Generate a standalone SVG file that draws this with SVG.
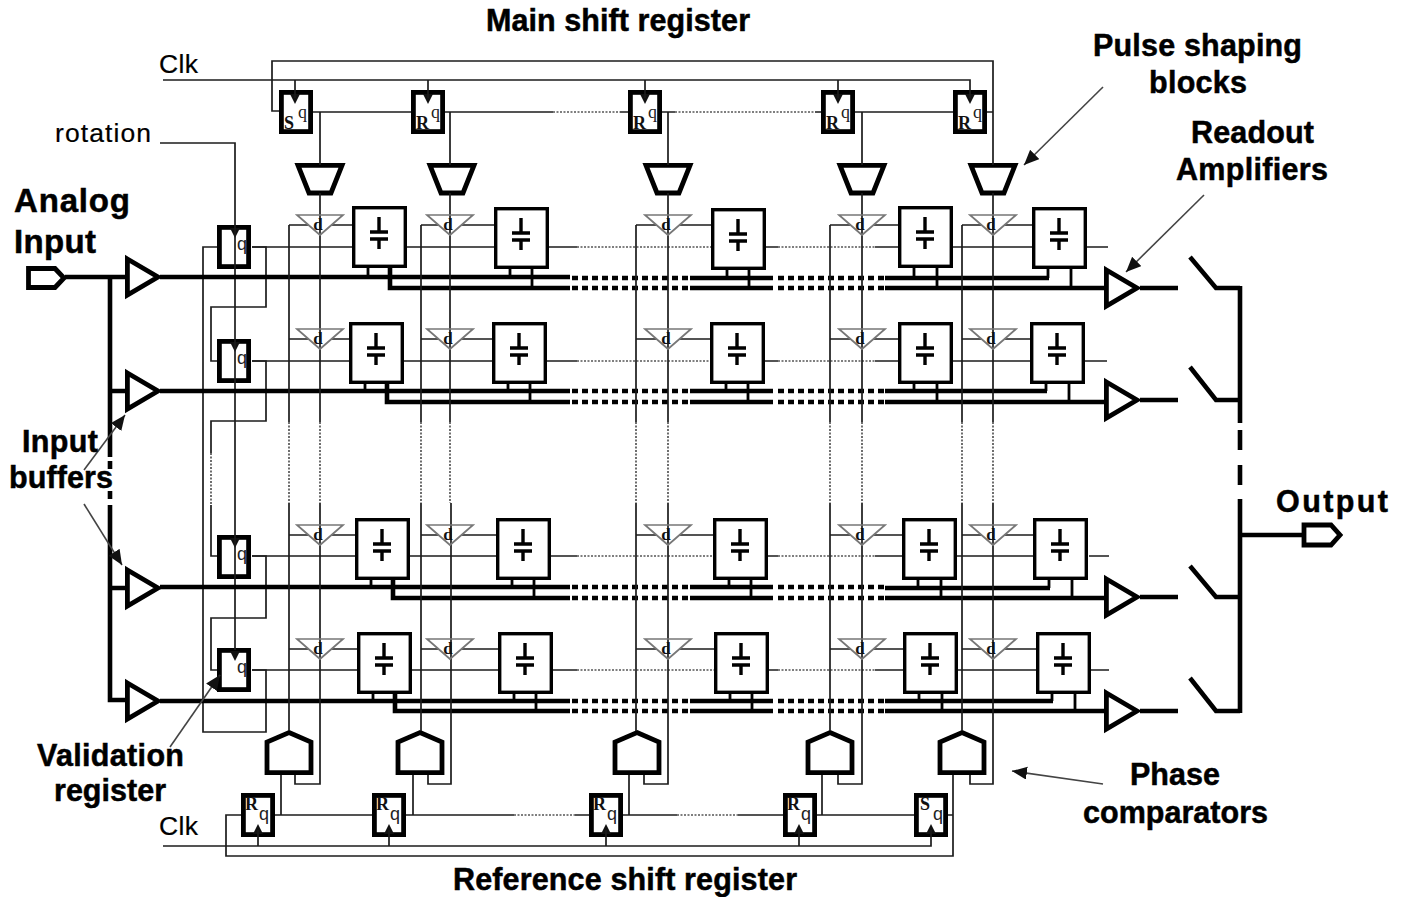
<svg xmlns="http://www.w3.org/2000/svg" xmlns:xlink="http://www.w3.org/1999/xlink" width="1406" height="897" viewBox="0 0 1406 897">
<style>
.t{fill:none;stroke:#1c1c1c;stroke-width:1.7}
.d{fill:none;stroke:#555;stroke-width:1.7;stroke-dasharray:2 1.5}
.b{fill:none;stroke:#000;stroke-width:4.6}
.bd{fill:none;stroke:#000;stroke-width:4.6;stroke-dasharray:6 4}
.s{fill:none;stroke:#000;stroke-width:2.8}
.vd{fill:none;stroke:#000;stroke-width:4.6}
.n{fill:none;stroke:#000;stroke-width:4.8;stroke-linejoin:miter}
.nb{fill:none;stroke:#000;stroke-width:3.4}
.tri{fill:none;stroke:#777;stroke-width:1.7}
.h{fill:#111}
.a{fill:none;stroke:#444;stroke-width:1.6;marker-end:url(#head)}
.l{font:bold 30.5px "Liberation Sans",Arial,sans-serif;fill:#000;stroke:#000;stroke-width:.5}
.r{font:26.5px "Liberation Sans",Arial,sans-serif;fill:#000;stroke:#000;stroke-width:.2}
.dl{font:bold 17px "Liberation Serif",serif;fill:#111;text-anchor:middle}
.fb{font:bold 18px "Liberation Serif",serif;fill:#111}
.fq{font:18px "Liberation Serif",serif;fill:#222}
.vq{font:18px "Liberation Sans",sans-serif;fill:#222}
</style>
<defs>
<marker id="head" markerUnits="userSpaceOnUse" markerWidth="18" markerHeight="14" refX="15" refY="6.5" orient="auto"><path d="M0 0L15 6.500L0 13Z" fill="#111"/></marker>
<g id="capbox"><rect class="nb" x="1.700" y="1.700" width="51.600" height="58.600" fill="#fff"/><path class="nb" d="M27 11V26M18 26H36M18 33H36M27 33V43"/></g>
<rect id="ff" class="n" x="2.400" y="2.400" width="29.200" height="39.200"/>
<path id="dtri" class="tri" d="M-23 0H23L0 20Z"/>
<path id="amp" class="n" d="M2.400-18L33 0L2.400 18Z"/>
<path id="pulse" class="n" d="M-22 2.400H22L11 30H-11Z"/>
<path id="comp" class="n" d="M0 1.500L22 11V41.600H-22V11Z"/>
<path id="clkdown" class="h" d="M-5 0H5L0 10Z"/>
<path id="clkup" class="h" d="M-5 0H5L0-10Z"/>
</defs>

<g id="input-port"><path class="n" d="M28.500 268.500H55L64 278L55 287.500H28.500Z"/></g>
<g id="output-port"><path class="n" d="M1304 525H1331L1340 535L1331 545H1304Z"/></g>

<g id="input-buffer-1" transform="translate(125,277)"><use href="#amp"/></g>
<g id="input-buffer-2" transform="translate(125,391)"><use href="#amp"/></g>
<g id="input-buffer-3" transform="translate(125,588)"><use href="#amp"/></g>
<g id="input-buffer-4" transform="translate(125,701)"><use href="#amp"/></g>
<g id="readout-amp-1" transform="translate(1104,288)"><use href="#amp"/></g>
<g id="readout-amp-2" transform="translate(1104,400)"><use href="#amp"/></g>
<g id="readout-amp-3" transform="translate(1104,597)"><use href="#amp"/></g>
<g id="readout-amp-4" transform="translate(1104,711)"><use href="#amp"/></g>

<g id="main-ff-1" transform="translate(279,90)"><use href="#ff"/><use href="#clkdown" x="16" y="4"/><text class="fb" x="5" y="39">S</text><text class="fq" x="19" y="28">q</text></g>
<g id="main-ff-2" transform="translate(411,90)"><use href="#ff"/><use href="#clkdown" x="17" y="4"/><text class="fb" x="5" y="39">R</text><text class="fq" x="20" y="28">q</text></g>
<g id="main-ff-3" transform="translate(628,90)"><use href="#ff"/><use href="#clkdown" x="17" y="4"/><text class="fb" x="5" y="39">R</text><text class="fq" x="20" y="28">q</text></g>
<g id="main-ff-4" transform="translate(821,90)"><use href="#ff"/><use href="#clkdown" x="17" y="4"/><text class="fb" x="5" y="39">R</text><text class="fq" x="20" y="28">q</text></g>
<g id="main-ff-5" transform="translate(953,90)"><use href="#ff"/><use href="#clkdown" x="17" y="4"/><text class="fb" x="5" y="39">R</text><text class="fq" x="20" y="28">q</text></g>

<g id="pulse-1" transform="translate(320,163)"><use href="#pulse"/></g>
<g id="pulse-2" transform="translate(452,163)"><use href="#pulse"/></g>
<g id="pulse-3" transform="translate(668,163)"><use href="#pulse"/></g>
<g id="pulse-4" transform="translate(862,163)"><use href="#pulse"/></g>
<g id="pulse-5" transform="translate(993,163)"><use href="#pulse"/></g>

<g id="val-ff-1" transform="translate(217,225)"><use href="#ff"/><use href="#clkdown" x="18" y="3"/><text class="vq" x="20" y="25">q</text></g>
<g id="val-ff-2" transform="translate(217,339)"><use href="#ff"/><use href="#clkdown" x="18" y="3"/><text class="vq" x="20" y="25">q</text></g>
<g id="val-ff-3" transform="translate(217,535)"><use href="#ff"/><use href="#clkdown" x="18" y="3"/><text class="vq" x="20" y="25">q</text></g>
<g id="val-ff-4" transform="translate(217,648)"><use href="#ff"/><use href="#clkdown" x="18" y="3"/><text class="vq" x="20" y="25">q</text></g>

<g id="cap-r1c1" transform="translate(352,206)"><use href="#capbox"/></g>
<g id="cap-r1c2" transform="translate(494,207)"><use href="#capbox"/></g>
<g id="cap-r1c3" transform="translate(711,208)"><use href="#capbox"/></g>
<g id="cap-r1c4" transform="translate(898,206)"><use href="#capbox"/></g>
<g id="cap-r1c5" transform="translate(1032,207)"><use href="#capbox"/></g>
<g id="cap-r2c1" transform="translate(349,322)"><use href="#capbox"/></g>
<g id="cap-r2c2" transform="translate(492,322)"><use href="#capbox"/></g>
<g id="cap-r2c3" transform="translate(710,322)"><use href="#capbox"/></g>
<g id="cap-r2c4" transform="translate(898,322)"><use href="#capbox"/></g>
<g id="cap-r2c5" transform="translate(1030,322)"><use href="#capbox"/></g>
<g id="cap-r3c1" transform="translate(355,518)"><use href="#capbox"/></g>
<g id="cap-r3c2" transform="translate(496,518)"><use href="#capbox"/></g>
<g id="cap-r3c3" transform="translate(713,518)"><use href="#capbox"/></g>
<g id="cap-r3c4" transform="translate(902,518)"><use href="#capbox"/></g>
<g id="cap-r3c5" transform="translate(1033,518)"><use href="#capbox"/></g>
<g id="cap-r4c1" transform="translate(357,632)"><use href="#capbox"/></g>
<g id="cap-r4c2" transform="translate(498,632)"><use href="#capbox"/></g>
<g id="cap-r4c3" transform="translate(714,632)"><use href="#capbox"/></g>
<g id="cap-r4c4" transform="translate(903,632)"><use href="#capbox"/></g>
<g id="cap-r4c5" transform="translate(1036,632)"><use href="#capbox"/></g>

<g id="comp-1" transform="translate(289,731)"><use href="#comp"/></g>
<g id="comp-2" transform="translate(420,731)"><use href="#comp"/></g>
<g id="comp-3" transform="translate(637,731)"><use href="#comp"/></g>
<g id="comp-4" transform="translate(830,731)"><use href="#comp"/></g>
<g id="comp-5" transform="translate(962,731)"><use href="#comp"/></g>

<g id="ref-ff-1" transform="translate(241,793)"><use href="#ff"/><use href="#clkup" x="17" y="41"/><text class="fb" x="4" y="17">R</text><text class="vq" x="18" y="27">q</text></g>
<g id="ref-ff-2" transform="translate(372,793)"><use href="#ff"/><use href="#clkup" x="17" y="41"/><text class="fb" x="4" y="17">R</text><text class="vq" x="18" y="27">q</text></g>
<g id="ref-ff-3" transform="translate(589,793)"><use href="#ff"/><use href="#clkup" x="17" y="41"/><text class="fb" x="4" y="17">R</text><text class="vq" x="18" y="27">q</text></g>
<g id="ref-ff-4" transform="translate(783,793)"><use href="#ff"/><use href="#clkup" x="16" y="41"/><text class="fb" x="4" y="17">R</text><text class="vq" x="18" y="27">q</text></g>
<g id="ref-ff-5" transform="translate(914,793)"><use href="#ff"/><use href="#clkup" x="17" y="41"/><text class="fb" x="6" y="17">S</text><text class="vq" x="19" y="27">q</text></g>

<g id="connectors">
<path class="t" d="M163 80H970V98M295 80V98M428 80V98M645 80V98M838 80V98"/>
<path class="t" d="M279 111H272V61H993V165"/>
<path class="t" d="M313 112H411M445 112H553M620 112H628M662 112H675M815 112H821M855 112H953M987 112H993"/>
<path class="d" d="M553 112H620M675 112H815"/>
<path class="t" d="M320 112V165M450 112V165M668 112V165M862 112V165"/>
<path class="t" d="M160 143H235V650"/>
<path class="t" d="M252 247H266V307H211V361H217M252 361H266V421H211V453M211 505V556H217M252 556H266V618H211V670H217M252 670H266V732H203V247H217"/>
<path class="d" d="M211 453V505"/>
<path class="b" d="M65 277H125M110 277V457M110 505V700H125M110 391H125M110 588H125"/>
<path class="vd" d="M110 461V469M110 491V499"/>
<path class="b" d="M160 277H570M690 278H773M885 278H1049M390 268V288H570M690 288H773M885 288H1104"/>
<path class="bd" d="M572 278H690M778 278H885M572 288H690M778 288H885"/>
<path class="b" d="M160 391H570M690 391H773M885 391H1047M387 384V402H570M690 402H773M885 402H1104"/>
<path class="bd" d="M572 391H690M778 391H885M572 402H690M778 402H885"/>
<path class="b" d="M160 587H570M690 587H773M885 588H1050M393 580V598H570M690 598H773M885 598H1104"/>
<path class="bd" d="M572 587H690M778 587H885M572 598H690M778 598H885"/>
<path class="b" d="M160 701H570M690 701H773M885 701H1053M395 694V711H570M690 711H773M885 711H1104"/>
<path class="bd" d="M572 701H690M778 701H885M572 711H690M778 711H885"/>
<path class="s" d="M368 268V277M532 269V288M510 269V278M727 270V278M749 270V288M914 268V278M937 268V288M1048 269V278M1071 269V288"/>
<path class="s" d="M365 384V391M508 384V391M530 384V402M726 384V391M748 384V402M914 384V391M937 384V402M1046 384V391M1069 384V402"/>
<path class="s" d="M371 580V587M512 580V587M534 580V598M729 580V587M751 580V598M918 580V588M941 580V598M1049 580V588M1072 580V598"/>
<path class="s" d="M373 694V701M514 694V701M536 694V711M730 694V701M752 694V711M919 694V701M942 694V711M1052 694V701M1075 694V711"/>
<path class="t" d="M252 247H352M407 247H494M549 247H577M766 247H778M875 247H898M953 247H1032M1087 247H1108"/>
<path class="d" d="M577 247H711M778 247H875"/>
<path class="t" d="M252 361H349M404 361H492M547 361H577M765 361H778M875 361H898M953 361H1030M1085 361H1107"/>
<path class="d" d="M577 361H710M778 361H875"/>
<path class="t" d="M252 556H355M410 556H496M551 556H577M768 556H778M875 556H902M957 556H1033M1089 556H1109"/>
<path class="d" d="M577 556H713M778 556H875"/>
<path class="t" d="M252 670H357M412 670H498M553 670H577M769 670H778M875 670H903M958 670H1036M1091 670H1109"/>
<path class="d" d="M577 670H714M778 670H875"/>
<path class="t" d="M289 225H309M331 225H352M421 225H439M461 225H494M636 225H657M679 225H711M830 225H851M873 225H898M962 225H982M1004 225H1032"/>
<path class="t" d="M289 339H309M331 339H349M421 339H439M461 339H492M636 339H657M679 339H710M830 339H851M873 339H898M962 339H982M1004 339H1030"/>
<path class="t" d="M289 535H309M331 535H355M421 535H439M461 535H496M636 535H657M679 535H713M830 535H851M873 535H902M962 535H982M1004 535H1033"/>
<path class="t" d="M289 649H309M331 649H357M421 649H439M461 649H498M636 649H657M679 649H714M830 649H851M873 649H903M962 649H982M1004 649H1036"/>
<path class="t" d="M289 225V422M289 503V731M421 225V422M421 503V731M636 225V422M636 503V731M830 225V422M830 503V731M962 225V422M962 503V731"/>
<path class="t" d="M320 193V422M450 193V422M668 193V422M862 193V422M993 193V422"/>
<path class="t" d="M320 503V784H295V775M451 503V784H428V775M668 503V784H644V775M862 503V784H838V775M993 503V784H970V775"/>
<path class="d" d="M289 422V503M320 422V503M421 422V503M450 422V503M636 422V503M668 422V503M830 422V503M862 422V503M962 422V503M993 422V503"/>
<path class="t" d="M281 775V815M413 775V815M629 775V815M822 775V815"/>
<path class="t" d="M241 815H226V856H953V775M275 815H372M406 815H514M575 815H589M623 815H677M738 815H783M817 815H914M948 815H953"/>
<path class="d" d="M514 815H575M677 815H738"/>
<path class="t" d="M163 846H931V830M258 846V830M389 846V830M606 846V830M799 846V830"/>
<path class="b" d="M1140 288H1178M1140 400H1178M1140 597H1178M1140 711H1178"/>
<path class="b" d="M1190 257L1216 288H1240M1190 367L1216 400H1240M1190 566L1216 597H1240M1190 678L1216 711H1240"/>
<path class="b" d="M1240 286V423M1240 430V450M1240 465V485M1240 499V713M1240 535H1303"/>
<path class="a" d="M1103 87L1024 165"/>
<path class="a" d="M1204 195L1126 272"/>
<path class="a" d="M1103 784L1012 771"/>
<path class="a" d="M84 470L125 415"/>
<path class="a" d="M84 504L122 565"/>
<path class="a" d="M170 747L220 675"/>
</g>

<g id="delay-stages">
<g id="d-r1c1" transform="translate(320,215)"><use href="#dtri"/><text class="dl" x="-2" y="15">d</text></g>
<g id="d-r1c2" transform="translate(450,215)"><use href="#dtri"/><text class="dl" x="-2" y="15">d</text></g>
<g id="d-r1c3" transform="translate(668,215)"><use href="#dtri"/><text class="dl" x="-2" y="15">d</text></g>
<g id="d-r1c4" transform="translate(862,215)"><use href="#dtri"/><text class="dl" x="-2" y="15">d</text></g>
<g id="d-r1c5" transform="translate(993,215)"><use href="#dtri"/><text class="dl" x="-2" y="15">d</text></g>
<g id="d-r2c1" transform="translate(320,329)"><use href="#dtri"/><text class="dl" x="-2" y="15">d</text></g>
<g id="d-r2c2" transform="translate(450,329)"><use href="#dtri"/><text class="dl" x="-2" y="15">d</text></g>
<g id="d-r2c3" transform="translate(668,329)"><use href="#dtri"/><text class="dl" x="-2" y="15">d</text></g>
<g id="d-r2c4" transform="translate(862,329)"><use href="#dtri"/><text class="dl" x="-2" y="15">d</text></g>
<g id="d-r2c5" transform="translate(993,329)"><use href="#dtri"/><text class="dl" x="-2" y="15">d</text></g>
<g id="d-r3c1" transform="translate(320,525)"><use href="#dtri"/><text class="dl" x="-2" y="15">d</text></g>
<g id="d-r3c2" transform="translate(450,525)"><use href="#dtri"/><text class="dl" x="-2" y="15">d</text></g>
<g id="d-r3c3" transform="translate(668,525)"><use href="#dtri"/><text class="dl" x="-2" y="15">d</text></g>
<g id="d-r3c4" transform="translate(862,525)"><use href="#dtri"/><text class="dl" x="-2" y="15">d</text></g>
<g id="d-r3c5" transform="translate(993,525)"><use href="#dtri"/><text class="dl" x="-2" y="15">d</text></g>
<g id="d-r4c1" transform="translate(320,639)"><use href="#dtri"/><text class="dl" x="-2" y="15">d</text></g>
<g id="d-r4c2" transform="translate(450,639)"><use href="#dtri"/><text class="dl" x="-2" y="15">d</text></g>
<g id="d-r4c3" transform="translate(668,639)"><use href="#dtri"/><text class="dl" x="-2" y="15">d</text></g>
<g id="d-r4c4" transform="translate(862,639)"><use href="#dtri"/><text class="dl" x="-2" y="15">d</text></g>
<g id="d-r4c5" transform="translate(993,639)"><use href="#dtri"/><text class="dl" x="-2" y="15">d</text></g>
</g>

<g id="labels">
<text class="l" x="486" y="31" textLength="264">Main shift register</text>
<text class="r" x="159" y="73" textLength="39">Clk</text>
<text class="r" x="55" y="142" textLength="96">rotation</text>
<text class="l" x="14" y="212" style="font-size:33px" textLength="116">Analog</text>
<text class="l" x="14" y="253" style="font-size:33px" textLength="82">Input</text>
<text class="l" x="22" y="452" textLength="76">Input</text>
<text class="l" x="9" y="488" textLength="104">buffers</text>
<text class="l" x="37" y="766" textLength="147">Validation</text>
<text class="l" x="54" y="801" textLength="112">register</text>
<text class="r" x="159" y="835" textLength="39">Clk</text>
<text class="l" x="453" y="890" textLength="344">Reference shift register</text>
<text class="l" x="1093" y="56" textLength="209">Pulse shaping</text>
<text class="l" x="1149" y="93" textLength="98">blocks</text>
<text class="l" x="1191" y="143" textLength="123">Readout</text>
<text class="l" x="1176" y="180" textLength="152">Amplifiers</text>
<text class="l" x="1276" y="512" textLength="112">Output</text>
<text class="l" x="1130" y="785" textLength="90">Phase</text>
<text class="l" x="1083" y="823" textLength="185">comparators</text>
</g>
</svg>
